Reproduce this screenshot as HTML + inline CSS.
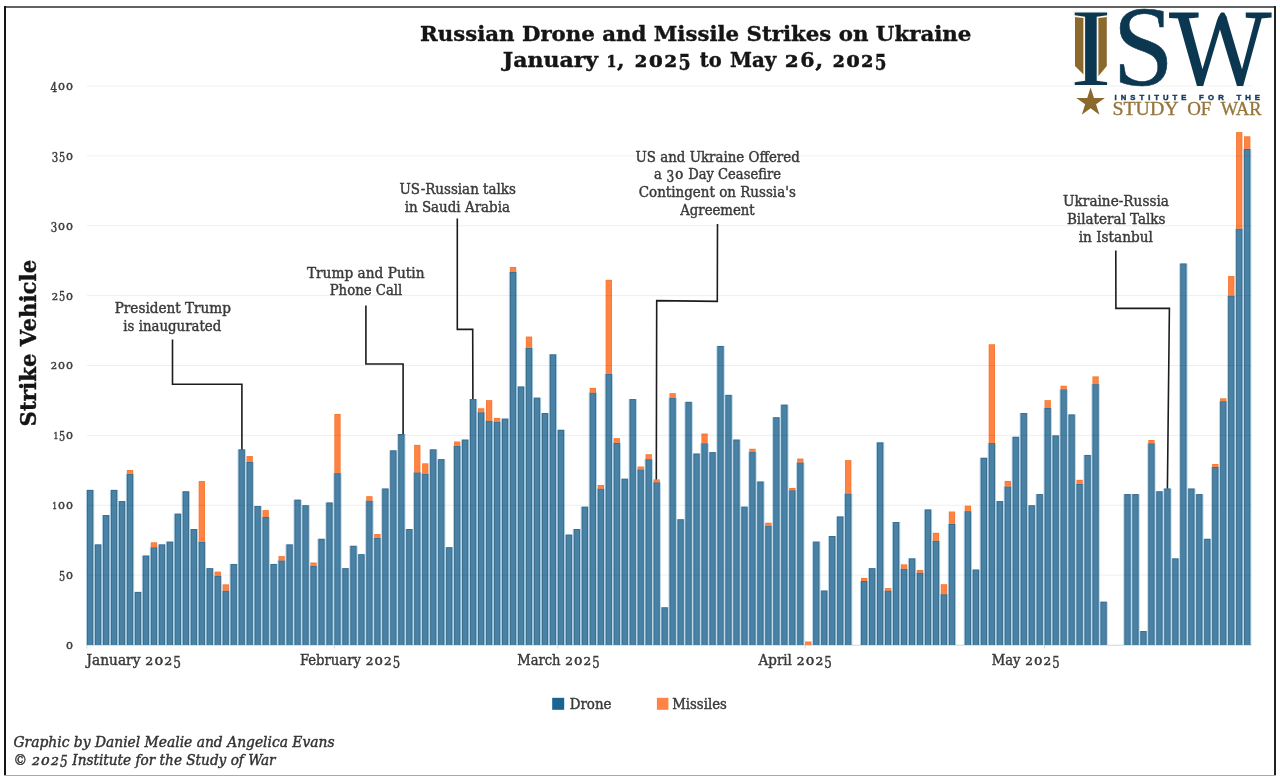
<!DOCTYPE html>
<html lang="en"><head><meta charset="utf-8"><title>Russian Drone and Missile Strikes on Ukraine</title>
<style>html,body{margin:0;padding:0;background:#fff}body{width:1280px;height:776px;overflow:hidden}</style></head>
<body>
<svg width="1280" height="776" viewBox="0 0 1280 776" style="display:block;filter:blur(0.45px)">
<rect width="1280" height="776" fill="#fff"/>
<rect x="4" y="6" width="1272" height="2" fill="#626262"/>
<rect x="4" y="6" width="2" height="770" fill="#151515"/>
<rect x="1274" y="6" width="2" height="770" fill="#222"/>
<rect x="4" y="775" width="1272" height="1" fill="#aaa"/>
<rect x="87" y="644.70" width="1165" height="1" fill="#d4d4d4"/>
<rect x="86.45" y="645" width="1" height="3.5" fill="#d8d8d8"/>
<rect x="333.83" y="645" width="1" height="3.5" fill="#d8d8d8"/>
<rect x="557.27" y="645" width="1" height="3.5" fill="#d8d8d8"/>
<rect x="804.65" y="645" width="1" height="3.5" fill="#d8d8d8"/>
<rect x="1044.05" y="645" width="1" height="3.5" fill="#d8d8d8"/>
<g id="bars">
<rect x="85.95" y="489.88" width="8.30" height="155.12" fill="#b4d3e8"/>
<rect x="86.95" y="489.88" width="6.30" height="155.12" fill="#3a6e8e"/>
<rect x="87.95" y="490.88" width="4.30" height="154.12" fill="#4a82a5"/>
<rect x="93.93" y="544.38" width="8.30" height="100.62" fill="#b4d3e8"/>
<rect x="94.93" y="544.38" width="6.30" height="100.62" fill="#3a6e8e"/>
<rect x="95.93" y="545.38" width="4.30" height="99.62" fill="#4a82a5"/>
<rect x="101.91" y="515.03" width="8.30" height="129.97" fill="#b4d3e8"/>
<rect x="102.91" y="515.03" width="6.30" height="129.97" fill="#3a6e8e"/>
<rect x="103.91" y="516.03" width="4.30" height="128.97" fill="#4a82a5"/>
<rect x="109.89" y="489.88" width="8.30" height="155.12" fill="#b4d3e8"/>
<rect x="110.89" y="489.88" width="6.30" height="155.12" fill="#3a6e8e"/>
<rect x="111.89" y="490.88" width="4.30" height="154.12" fill="#4a82a5"/>
<rect x="117.87" y="501.06" width="8.30" height="143.94" fill="#b4d3e8"/>
<rect x="118.87" y="501.06" width="6.30" height="143.94" fill="#3a6e8e"/>
<rect x="119.87" y="502.06" width="4.30" height="142.94" fill="#4a82a5"/>
<rect x="125.85" y="473.67" width="8.30" height="171.33" fill="#b4d3e8"/>
<rect x="126.85" y="473.67" width="6.30" height="171.33" fill="#3a6e8e"/>
<rect x="127.85" y="474.67" width="4.30" height="170.33" fill="#4a82a5"/>
<rect x="126.85" y="470.03" width="6.30" height="3.63" fill="#f4772f"/>
<rect x="127.65" y="470.83" width="4.70" height="2.83" fill="#ff8344"/>
<rect x="133.83" y="591.89" width="8.30" height="53.11" fill="#b4d3e8"/>
<rect x="134.83" y="591.89" width="6.30" height="53.11" fill="#3a6e8e"/>
<rect x="135.83" y="592.89" width="4.30" height="52.11" fill="#4a82a5"/>
<rect x="141.81" y="555.56" width="8.30" height="89.44" fill="#b4d3e8"/>
<rect x="142.81" y="555.56" width="6.30" height="89.44" fill="#3a6e8e"/>
<rect x="143.81" y="556.56" width="4.30" height="88.44" fill="#4a82a5"/>
<rect x="149.79" y="547.17" width="8.30" height="97.83" fill="#b4d3e8"/>
<rect x="150.79" y="547.17" width="6.30" height="97.83" fill="#3a6e8e"/>
<rect x="151.79" y="548.17" width="4.30" height="96.83" fill="#4a82a5"/>
<rect x="150.79" y="542.28" width="6.30" height="4.89" fill="#f4772f"/>
<rect x="151.59" y="543.08" width="4.70" height="4.09" fill="#ff8344"/>
<rect x="157.77" y="544.38" width="8.30" height="100.62" fill="#b4d3e8"/>
<rect x="158.77" y="544.38" width="6.30" height="100.62" fill="#3a6e8e"/>
<rect x="159.77" y="545.38" width="4.30" height="99.62" fill="#4a82a5"/>
<rect x="165.75" y="541.59" width="8.30" height="103.41" fill="#b4d3e8"/>
<rect x="166.75" y="541.59" width="6.30" height="103.41" fill="#3a6e8e"/>
<rect x="167.75" y="542.59" width="4.30" height="102.41" fill="#4a82a5"/>
<rect x="173.73" y="513.63" width="8.30" height="131.37" fill="#b4d3e8"/>
<rect x="174.73" y="513.63" width="6.30" height="131.37" fill="#3a6e8e"/>
<rect x="175.73" y="514.63" width="4.30" height="130.37" fill="#4a82a5"/>
<rect x="181.71" y="491.27" width="8.30" height="153.73" fill="#b4d3e8"/>
<rect x="182.71" y="491.27" width="6.30" height="153.73" fill="#3a6e8e"/>
<rect x="183.71" y="492.27" width="4.30" height="152.73" fill="#4a82a5"/>
<rect x="189.69" y="529.01" width="8.30" height="115.99" fill="#b4d3e8"/>
<rect x="190.69" y="529.01" width="6.30" height="115.99" fill="#3a6e8e"/>
<rect x="191.69" y="530.01" width="4.30" height="114.99" fill="#4a82a5"/>
<rect x="197.67" y="541.59" width="8.30" height="103.41" fill="#b4d3e8"/>
<rect x="198.67" y="541.59" width="6.30" height="103.41" fill="#3a6e8e"/>
<rect x="199.67" y="542.59" width="4.30" height="102.41" fill="#4a82a5"/>
<rect x="198.67" y="481.07" width="6.30" height="60.51" fill="#f4772f"/>
<rect x="199.47" y="481.87" width="4.70" height="59.71" fill="#ff8344"/>
<rect x="205.65" y="568.14" width="8.30" height="76.86" fill="#b4d3e8"/>
<rect x="206.65" y="568.14" width="6.30" height="76.86" fill="#3a6e8e"/>
<rect x="207.65" y="569.14" width="4.30" height="75.86" fill="#4a82a5"/>
<rect x="213.63" y="575.82" width="8.30" height="69.18" fill="#b4d3e8"/>
<rect x="214.63" y="575.82" width="6.30" height="69.18" fill="#3a6e8e"/>
<rect x="215.63" y="576.82" width="4.30" height="68.18" fill="#4a82a5"/>
<rect x="214.63" y="571.63" width="6.30" height="4.19" fill="#f4772f"/>
<rect x="215.43" y="572.43" width="4.70" height="3.39" fill="#ff8344"/>
<rect x="221.61" y="590.50" width="8.30" height="54.50" fill="#b4d3e8"/>
<rect x="222.61" y="590.50" width="6.30" height="54.50" fill="#3a6e8e"/>
<rect x="223.61" y="591.50" width="4.30" height="53.50" fill="#4a82a5"/>
<rect x="222.61" y="584.35" width="6.30" height="6.15" fill="#f4772f"/>
<rect x="223.41" y="585.15" width="4.70" height="5.35" fill="#ff8344"/>
<rect x="229.59" y="563.95" width="8.30" height="81.05" fill="#b4d3e8"/>
<rect x="230.59" y="563.95" width="6.30" height="81.05" fill="#3a6e8e"/>
<rect x="231.59" y="564.95" width="4.30" height="80.05" fill="#4a82a5"/>
<rect x="237.57" y="449.35" width="8.30" height="195.65" fill="#b4d3e8"/>
<rect x="238.57" y="449.35" width="6.30" height="195.65" fill="#3a6e8e"/>
<rect x="239.57" y="450.35" width="4.30" height="194.65" fill="#4a82a5"/>
<rect x="245.55" y="461.93" width="8.30" height="183.07" fill="#b4d3e8"/>
<rect x="246.55" y="461.93" width="6.30" height="183.07" fill="#3a6e8e"/>
<rect x="247.55" y="462.93" width="4.30" height="182.07" fill="#4a82a5"/>
<rect x="246.55" y="456.06" width="6.30" height="5.87" fill="#f4772f"/>
<rect x="247.35" y="456.86" width="4.70" height="5.07" fill="#ff8344"/>
<rect x="253.53" y="505.95" width="8.30" height="139.05" fill="#b4d3e8"/>
<rect x="254.53" y="505.95" width="6.30" height="139.05" fill="#3a6e8e"/>
<rect x="255.53" y="506.95" width="4.30" height="138.05" fill="#4a82a5"/>
<rect x="261.51" y="516.85" width="8.30" height="128.15" fill="#b4d3e8"/>
<rect x="262.51" y="516.85" width="6.30" height="128.15" fill="#3a6e8e"/>
<rect x="263.51" y="517.85" width="4.30" height="127.15" fill="#4a82a5"/>
<rect x="262.51" y="510.14" width="6.30" height="6.71" fill="#f4772f"/>
<rect x="263.31" y="510.94" width="4.70" height="5.91" fill="#ff8344"/>
<rect x="269.49" y="563.95" width="8.30" height="81.05" fill="#b4d3e8"/>
<rect x="270.49" y="563.95" width="6.30" height="81.05" fill="#3a6e8e"/>
<rect x="271.49" y="564.95" width="4.30" height="80.05" fill="#4a82a5"/>
<rect x="277.47" y="560.31" width="8.30" height="84.69" fill="#b4d3e8"/>
<rect x="278.47" y="560.31" width="6.30" height="84.69" fill="#3a6e8e"/>
<rect x="279.47" y="561.31" width="4.30" height="83.69" fill="#4a82a5"/>
<rect x="278.47" y="556.12" width="6.30" height="4.19" fill="#f4772f"/>
<rect x="279.27" y="556.92" width="4.70" height="3.39" fill="#ff8344"/>
<rect x="285.45" y="544.38" width="8.30" height="100.62" fill="#b4d3e8"/>
<rect x="286.45" y="544.38" width="6.30" height="100.62" fill="#3a6e8e"/>
<rect x="287.45" y="545.38" width="4.30" height="99.62" fill="#4a82a5"/>
<rect x="293.43" y="499.66" width="8.30" height="145.34" fill="#b4d3e8"/>
<rect x="294.43" y="499.66" width="6.30" height="145.34" fill="#3a6e8e"/>
<rect x="295.43" y="500.66" width="4.30" height="144.34" fill="#4a82a5"/>
<rect x="301.41" y="505.25" width="8.30" height="139.75" fill="#b4d3e8"/>
<rect x="302.41" y="505.25" width="6.30" height="139.75" fill="#3a6e8e"/>
<rect x="303.41" y="506.25" width="4.30" height="138.75" fill="#4a82a5"/>
<rect x="309.39" y="565.76" width="8.30" height="79.24" fill="#b4d3e8"/>
<rect x="310.39" y="565.76" width="6.30" height="79.24" fill="#3a6e8e"/>
<rect x="311.39" y="566.76" width="4.30" height="78.24" fill="#4a82a5"/>
<rect x="310.39" y="562.55" width="6.30" height="3.21" fill="#f4772f"/>
<rect x="311.19" y="563.35" width="4.70" height="2.41" fill="#ff8344"/>
<rect x="317.37" y="538.79" width="8.30" height="106.21" fill="#b4d3e8"/>
<rect x="318.37" y="538.79" width="6.30" height="106.21" fill="#3a6e8e"/>
<rect x="319.37" y="539.79" width="4.30" height="105.21" fill="#4a82a5"/>
<rect x="325.35" y="502.46" width="8.30" height="142.54" fill="#b4d3e8"/>
<rect x="326.35" y="502.46" width="6.30" height="142.54" fill="#3a6e8e"/>
<rect x="327.35" y="503.46" width="4.30" height="141.54" fill="#4a82a5"/>
<rect x="333.33" y="473.11" width="8.30" height="171.89" fill="#b4d3e8"/>
<rect x="334.33" y="473.11" width="6.30" height="171.89" fill="#3a6e8e"/>
<rect x="335.33" y="474.11" width="4.30" height="170.89" fill="#4a82a5"/>
<rect x="334.33" y="413.99" width="6.30" height="59.11" fill="#f4772f"/>
<rect x="335.13" y="414.79" width="4.70" height="58.31" fill="#ff8344"/>
<rect x="341.31" y="568.14" width="8.30" height="76.86" fill="#b4d3e8"/>
<rect x="342.31" y="568.14" width="6.30" height="76.86" fill="#3a6e8e"/>
<rect x="343.31" y="569.14" width="4.30" height="75.86" fill="#4a82a5"/>
<rect x="349.29" y="545.78" width="8.30" height="99.22" fill="#b4d3e8"/>
<rect x="350.29" y="545.78" width="6.30" height="99.22" fill="#3a6e8e"/>
<rect x="351.29" y="546.78" width="4.30" height="98.22" fill="#4a82a5"/>
<rect x="357.27" y="554.16" width="8.30" height="90.84" fill="#b4d3e8"/>
<rect x="358.27" y="554.16" width="6.30" height="90.84" fill="#3a6e8e"/>
<rect x="359.27" y="555.16" width="4.30" height="89.84" fill="#4a82a5"/>
<rect x="365.25" y="500.50" width="8.30" height="144.50" fill="#b4d3e8"/>
<rect x="366.25" y="500.50" width="6.30" height="144.50" fill="#3a6e8e"/>
<rect x="367.25" y="501.50" width="4.30" height="143.50" fill="#4a82a5"/>
<rect x="366.25" y="496.17" width="6.30" height="4.33" fill="#f4772f"/>
<rect x="367.05" y="496.97" width="4.70" height="3.53" fill="#ff8344"/>
<rect x="373.23" y="537.95" width="8.30" height="107.05" fill="#b4d3e8"/>
<rect x="374.23" y="537.95" width="6.30" height="107.05" fill="#3a6e8e"/>
<rect x="375.23" y="538.95" width="4.30" height="106.05" fill="#4a82a5"/>
<rect x="374.23" y="534.04" width="6.30" height="3.91" fill="#f4772f"/>
<rect x="375.03" y="534.84" width="4.70" height="3.11" fill="#ff8344"/>
<rect x="381.21" y="488.48" width="8.30" height="156.52" fill="#b4d3e8"/>
<rect x="382.21" y="488.48" width="6.30" height="156.52" fill="#3a6e8e"/>
<rect x="383.21" y="489.48" width="4.30" height="155.52" fill="#4a82a5"/>
<rect x="389.19" y="450.33" width="8.30" height="194.67" fill="#b4d3e8"/>
<rect x="390.19" y="450.33" width="6.30" height="194.67" fill="#3a6e8e"/>
<rect x="391.19" y="451.33" width="4.30" height="193.67" fill="#4a82a5"/>
<rect x="397.17" y="433.98" width="8.30" height="211.02" fill="#b4d3e8"/>
<rect x="398.17" y="433.98" width="6.30" height="211.02" fill="#3a6e8e"/>
<rect x="399.17" y="434.98" width="4.30" height="210.02" fill="#4a82a5"/>
<rect x="405.15" y="529.01" width="8.30" height="115.99" fill="#b4d3e8"/>
<rect x="406.15" y="529.01" width="6.30" height="115.99" fill="#3a6e8e"/>
<rect x="407.15" y="530.01" width="4.30" height="114.99" fill="#4a82a5"/>
<rect x="413.13" y="472.27" width="8.30" height="172.73" fill="#b4d3e8"/>
<rect x="414.13" y="472.27" width="6.30" height="172.73" fill="#3a6e8e"/>
<rect x="415.13" y="473.27" width="4.30" height="171.73" fill="#4a82a5"/>
<rect x="414.13" y="444.88" width="6.30" height="27.39" fill="#f4772f"/>
<rect x="414.93" y="445.68" width="4.70" height="26.59" fill="#ff8344"/>
<rect x="421.11" y="473.53" width="8.30" height="171.47" fill="#b4d3e8"/>
<rect x="422.11" y="473.53" width="6.30" height="171.47" fill="#3a6e8e"/>
<rect x="423.11" y="474.53" width="4.30" height="170.47" fill="#4a82a5"/>
<rect x="422.11" y="463.33" width="6.30" height="10.20" fill="#f4772f"/>
<rect x="422.91" y="464.13" width="4.70" height="9.40" fill="#ff8344"/>
<rect x="429.09" y="449.35" width="8.30" height="195.65" fill="#b4d3e8"/>
<rect x="430.09" y="449.35" width="6.30" height="195.65" fill="#3a6e8e"/>
<rect x="431.09" y="450.35" width="4.30" height="194.65" fill="#4a82a5"/>
<rect x="437.07" y="459.13" width="8.30" height="185.87" fill="#b4d3e8"/>
<rect x="438.07" y="459.13" width="6.30" height="185.87" fill="#3a6e8e"/>
<rect x="439.07" y="460.13" width="4.30" height="184.87" fill="#4a82a5"/>
<rect x="445.05" y="547.17" width="8.30" height="97.83" fill="#b4d3e8"/>
<rect x="446.05" y="547.17" width="6.30" height="97.83" fill="#3a6e8e"/>
<rect x="447.05" y="548.17" width="4.30" height="96.83" fill="#4a82a5"/>
<rect x="453.03" y="445.72" width="8.30" height="199.28" fill="#b4d3e8"/>
<rect x="454.03" y="445.72" width="6.30" height="199.28" fill="#3a6e8e"/>
<rect x="455.03" y="446.72" width="4.30" height="198.28" fill="#4a82a5"/>
<rect x="454.03" y="441.52" width="6.30" height="4.19" fill="#f4772f"/>
<rect x="454.83" y="442.32" width="4.70" height="3.39" fill="#ff8344"/>
<rect x="461.01" y="439.57" width="8.30" height="205.43" fill="#b4d3e8"/>
<rect x="462.01" y="439.57" width="6.30" height="205.43" fill="#3a6e8e"/>
<rect x="463.01" y="440.57" width="4.30" height="204.43" fill="#4a82a5"/>
<rect x="468.99" y="399.04" width="8.30" height="245.96" fill="#b4d3e8"/>
<rect x="469.99" y="399.04" width="6.30" height="245.96" fill="#3a6e8e"/>
<rect x="470.99" y="400.04" width="4.30" height="244.96" fill="#4a82a5"/>
<rect x="476.97" y="412.18" width="8.30" height="232.82" fill="#b4d3e8"/>
<rect x="477.97" y="412.18" width="6.30" height="232.82" fill="#3a6e8e"/>
<rect x="478.97" y="413.18" width="4.30" height="231.82" fill="#4a82a5"/>
<rect x="477.97" y="408.26" width="6.30" height="3.91" fill="#f4772f"/>
<rect x="478.77" y="409.06" width="4.70" height="3.11" fill="#ff8344"/>
<rect x="484.95" y="420.56" width="8.30" height="224.44" fill="#b4d3e8"/>
<rect x="485.95" y="420.56" width="6.30" height="224.44" fill="#3a6e8e"/>
<rect x="486.95" y="421.56" width="4.30" height="223.44" fill="#4a82a5"/>
<rect x="485.95" y="400.16" width="6.30" height="20.40" fill="#f4772f"/>
<rect x="486.75" y="400.96" width="4.70" height="19.60" fill="#ff8344"/>
<rect x="492.93" y="421.68" width="8.30" height="223.32" fill="#b4d3e8"/>
<rect x="493.93" y="421.68" width="6.30" height="223.32" fill="#3a6e8e"/>
<rect x="494.93" y="422.68" width="4.30" height="222.32" fill="#4a82a5"/>
<rect x="493.93" y="417.91" width="6.30" height="3.77" fill="#f4772f"/>
<rect x="494.73" y="418.71" width="4.70" height="2.97" fill="#ff8344"/>
<rect x="500.91" y="418.61" width="8.30" height="226.39" fill="#b4d3e8"/>
<rect x="501.91" y="418.61" width="6.30" height="226.39" fill="#3a6e8e"/>
<rect x="502.91" y="419.61" width="4.30" height="225.39" fill="#4a82a5"/>
<rect x="508.89" y="271.87" width="8.30" height="373.13" fill="#b4d3e8"/>
<rect x="509.89" y="271.87" width="6.30" height="373.13" fill="#3a6e8e"/>
<rect x="510.89" y="272.87" width="4.30" height="372.13" fill="#4a82a5"/>
<rect x="509.89" y="266.98" width="6.30" height="4.89" fill="#f4772f"/>
<rect x="510.69" y="267.78" width="4.70" height="4.09" fill="#ff8344"/>
<rect x="516.87" y="386.46" width="8.30" height="258.54" fill="#b4d3e8"/>
<rect x="517.87" y="386.46" width="6.30" height="258.54" fill="#3a6e8e"/>
<rect x="518.87" y="387.46" width="4.30" height="257.54" fill="#4a82a5"/>
<rect x="524.85" y="347.75" width="8.30" height="297.25" fill="#b4d3e8"/>
<rect x="525.85" y="347.75" width="6.30" height="297.25" fill="#3a6e8e"/>
<rect x="526.85" y="348.75" width="4.30" height="296.25" fill="#4a82a5"/>
<rect x="525.85" y="336.57" width="6.30" height="11.18" fill="#f4772f"/>
<rect x="526.65" y="337.37" width="4.70" height="10.38" fill="#ff8344"/>
<rect x="532.83" y="397.64" width="8.30" height="247.36" fill="#b4d3e8"/>
<rect x="533.83" y="397.64" width="6.30" height="247.36" fill="#3a6e8e"/>
<rect x="534.83" y="398.64" width="4.30" height="246.36" fill="#4a82a5"/>
<rect x="540.81" y="413.01" width="8.30" height="231.99" fill="#b4d3e8"/>
<rect x="541.81" y="413.01" width="6.30" height="231.99" fill="#3a6e8e"/>
<rect x="542.81" y="414.01" width="4.30" height="230.99" fill="#4a82a5"/>
<rect x="548.79" y="354.32" width="8.30" height="290.68" fill="#b4d3e8"/>
<rect x="549.79" y="354.32" width="6.30" height="290.68" fill="#3a6e8e"/>
<rect x="550.79" y="355.32" width="4.30" height="289.68" fill="#4a82a5"/>
<rect x="556.77" y="429.78" width="8.30" height="215.22" fill="#b4d3e8"/>
<rect x="557.77" y="429.78" width="6.30" height="215.22" fill="#3a6e8e"/>
<rect x="558.77" y="430.78" width="4.30" height="214.22" fill="#4a82a5"/>
<rect x="564.75" y="534.60" width="8.30" height="110.40" fill="#b4d3e8"/>
<rect x="565.75" y="534.60" width="6.30" height="110.40" fill="#3a6e8e"/>
<rect x="566.75" y="535.60" width="4.30" height="109.40" fill="#4a82a5"/>
<rect x="572.73" y="529.01" width="8.30" height="115.99" fill="#b4d3e8"/>
<rect x="573.73" y="529.01" width="6.30" height="115.99" fill="#3a6e8e"/>
<rect x="574.73" y="530.01" width="4.30" height="114.99" fill="#4a82a5"/>
<rect x="580.71" y="506.65" width="8.30" height="138.35" fill="#b4d3e8"/>
<rect x="581.71" y="506.65" width="6.30" height="138.35" fill="#3a6e8e"/>
<rect x="582.71" y="507.65" width="4.30" height="137.35" fill="#4a82a5"/>
<rect x="588.69" y="392.47" width="8.30" height="252.53" fill="#b4d3e8"/>
<rect x="589.69" y="392.47" width="6.30" height="252.53" fill="#3a6e8e"/>
<rect x="590.69" y="393.47" width="4.30" height="251.53" fill="#4a82a5"/>
<rect x="589.69" y="387.86" width="6.30" height="4.61" fill="#f4772f"/>
<rect x="590.49" y="388.66" width="4.70" height="3.81" fill="#ff8344"/>
<rect x="596.67" y="488.48" width="8.30" height="156.52" fill="#b4d3e8"/>
<rect x="597.67" y="488.48" width="6.30" height="156.52" fill="#3a6e8e"/>
<rect x="598.67" y="489.48" width="4.30" height="155.52" fill="#4a82a5"/>
<rect x="597.67" y="484.99" width="6.30" height="3.49" fill="#f4772f"/>
<rect x="598.47" y="485.79" width="4.70" height="2.69" fill="#ff8344"/>
<rect x="604.65" y="373.88" width="8.30" height="271.12" fill="#b4d3e8"/>
<rect x="605.65" y="373.88" width="6.30" height="271.12" fill="#3a6e8e"/>
<rect x="606.65" y="374.88" width="4.30" height="270.12" fill="#4a82a5"/>
<rect x="605.65" y="279.83" width="6.30" height="94.05" fill="#f4772f"/>
<rect x="606.45" y="280.63" width="4.70" height="93.25" fill="#ff8344"/>
<rect x="612.63" y="442.64" width="8.30" height="202.36" fill="#b4d3e8"/>
<rect x="613.63" y="442.64" width="6.30" height="202.36" fill="#3a6e8e"/>
<rect x="614.63" y="443.64" width="4.30" height="201.36" fill="#4a82a5"/>
<rect x="613.63" y="438.17" width="6.30" height="4.47" fill="#f4772f"/>
<rect x="614.43" y="438.97" width="4.70" height="3.67" fill="#ff8344"/>
<rect x="620.61" y="478.70" width="8.30" height="166.30" fill="#b4d3e8"/>
<rect x="621.61" y="478.70" width="6.30" height="166.30" fill="#3a6e8e"/>
<rect x="622.61" y="479.70" width="4.30" height="165.30" fill="#4a82a5"/>
<rect x="628.59" y="399.04" width="8.30" height="245.96" fill="#b4d3e8"/>
<rect x="629.59" y="399.04" width="6.30" height="245.96" fill="#3a6e8e"/>
<rect x="630.59" y="400.04" width="4.30" height="244.96" fill="#4a82a5"/>
<rect x="636.57" y="469.33" width="8.30" height="175.67" fill="#b4d3e8"/>
<rect x="637.57" y="469.33" width="6.30" height="175.67" fill="#3a6e8e"/>
<rect x="638.57" y="470.33" width="4.30" height="174.67" fill="#4a82a5"/>
<rect x="637.57" y="466.54" width="6.30" height="2.79" fill="#f4772f"/>
<rect x="638.37" y="467.34" width="4.70" height="1.99" fill="#ff8344"/>
<rect x="644.55" y="459.13" width="8.30" height="185.87" fill="#b4d3e8"/>
<rect x="645.55" y="459.13" width="6.30" height="185.87" fill="#3a6e8e"/>
<rect x="646.55" y="460.13" width="4.30" height="184.87" fill="#4a82a5"/>
<rect x="645.55" y="454.24" width="6.30" height="4.89" fill="#f4772f"/>
<rect x="646.35" y="455.04" width="4.70" height="4.09" fill="#ff8344"/>
<rect x="652.53" y="482.19" width="8.30" height="162.81" fill="#b4d3e8"/>
<rect x="653.53" y="482.19" width="6.30" height="162.81" fill="#3a6e8e"/>
<rect x="654.53" y="483.19" width="4.30" height="161.81" fill="#4a82a5"/>
<rect x="653.53" y="479.40" width="6.30" height="2.79" fill="#f4772f"/>
<rect x="654.33" y="480.20" width="4.70" height="1.99" fill="#ff8344"/>
<rect x="660.51" y="607.27" width="8.30" height="37.73" fill="#b4d3e8"/>
<rect x="661.51" y="607.27" width="6.30" height="37.73" fill="#3a6e8e"/>
<rect x="662.51" y="608.27" width="4.30" height="36.73" fill="#4a82a5"/>
<rect x="668.49" y="397.64" width="8.30" height="247.36" fill="#b4d3e8"/>
<rect x="669.49" y="397.64" width="6.30" height="247.36" fill="#3a6e8e"/>
<rect x="670.49" y="398.64" width="4.30" height="246.36" fill="#4a82a5"/>
<rect x="669.49" y="393.17" width="6.30" height="4.47" fill="#f4772f"/>
<rect x="670.29" y="393.97" width="4.70" height="3.67" fill="#ff8344"/>
<rect x="676.47" y="519.23" width="8.30" height="125.77" fill="#b4d3e8"/>
<rect x="677.47" y="519.23" width="6.30" height="125.77" fill="#3a6e8e"/>
<rect x="678.47" y="520.23" width="4.30" height="124.77" fill="#4a82a5"/>
<rect x="684.45" y="401.84" width="8.30" height="243.16" fill="#b4d3e8"/>
<rect x="685.45" y="401.84" width="6.30" height="243.16" fill="#3a6e8e"/>
<rect x="686.45" y="402.84" width="4.30" height="242.16" fill="#4a82a5"/>
<rect x="692.43" y="453.54" width="8.30" height="191.46" fill="#b4d3e8"/>
<rect x="693.43" y="453.54" width="6.30" height="191.46" fill="#3a6e8e"/>
<rect x="694.43" y="454.54" width="4.30" height="190.46" fill="#4a82a5"/>
<rect x="700.41" y="443.20" width="8.30" height="201.80" fill="#b4d3e8"/>
<rect x="701.41" y="443.20" width="6.30" height="201.80" fill="#3a6e8e"/>
<rect x="702.41" y="444.20" width="4.30" height="200.80" fill="#4a82a5"/>
<rect x="701.41" y="433.56" width="6.30" height="9.64" fill="#f4772f"/>
<rect x="702.21" y="434.36" width="4.70" height="8.84" fill="#ff8344"/>
<rect x="708.39" y="452.14" width="8.30" height="192.86" fill="#b4d3e8"/>
<rect x="709.39" y="452.14" width="6.30" height="192.86" fill="#3a6e8e"/>
<rect x="710.39" y="453.14" width="4.30" height="191.86" fill="#4a82a5"/>
<rect x="716.37" y="345.94" width="8.30" height="299.06" fill="#b4d3e8"/>
<rect x="717.37" y="345.94" width="6.30" height="299.06" fill="#3a6e8e"/>
<rect x="718.37" y="346.94" width="4.30" height="298.06" fill="#4a82a5"/>
<rect x="724.35" y="394.85" width="8.30" height="250.15" fill="#b4d3e8"/>
<rect x="725.35" y="394.85" width="6.30" height="250.15" fill="#3a6e8e"/>
<rect x="726.35" y="395.85" width="4.30" height="249.15" fill="#4a82a5"/>
<rect x="732.33" y="439.57" width="8.30" height="205.43" fill="#b4d3e8"/>
<rect x="733.33" y="439.57" width="6.30" height="205.43" fill="#3a6e8e"/>
<rect x="734.33" y="440.57" width="4.30" height="204.43" fill="#4a82a5"/>
<rect x="740.31" y="506.65" width="8.30" height="138.35" fill="#b4d3e8"/>
<rect x="741.31" y="506.65" width="6.30" height="138.35" fill="#3a6e8e"/>
<rect x="742.31" y="507.65" width="4.30" height="137.35" fill="#4a82a5"/>
<rect x="748.29" y="451.59" width="8.30" height="193.41" fill="#b4d3e8"/>
<rect x="749.29" y="451.59" width="6.30" height="193.41" fill="#3a6e8e"/>
<rect x="750.29" y="452.59" width="4.30" height="192.41" fill="#4a82a5"/>
<rect x="749.29" y="448.79" width="6.30" height="2.80" fill="#f4772f"/>
<rect x="750.09" y="449.59" width="4.70" height="2.00" fill="#ff8344"/>
<rect x="756.27" y="481.49" width="8.30" height="163.51" fill="#b4d3e8"/>
<rect x="757.27" y="481.49" width="6.30" height="163.51" fill="#3a6e8e"/>
<rect x="758.27" y="482.49" width="4.30" height="162.51" fill="#4a82a5"/>
<rect x="764.25" y="525.51" width="8.30" height="119.49" fill="#b4d3e8"/>
<rect x="765.25" y="525.51" width="6.30" height="119.49" fill="#3a6e8e"/>
<rect x="766.25" y="526.51" width="4.30" height="118.49" fill="#4a82a5"/>
<rect x="765.25" y="522.72" width="6.30" height="2.79" fill="#f4772f"/>
<rect x="766.05" y="523.52" width="4.70" height="1.99" fill="#ff8344"/>
<rect x="772.23" y="417.21" width="8.30" height="227.79" fill="#b4d3e8"/>
<rect x="773.23" y="417.21" width="6.30" height="227.79" fill="#3a6e8e"/>
<rect x="774.23" y="418.21" width="4.30" height="226.79" fill="#4a82a5"/>
<rect x="780.21" y="404.63" width="8.30" height="240.37" fill="#b4d3e8"/>
<rect x="781.21" y="404.63" width="6.30" height="240.37" fill="#3a6e8e"/>
<rect x="782.21" y="405.63" width="4.30" height="239.37" fill="#4a82a5"/>
<rect x="788.19" y="490.16" width="8.30" height="154.84" fill="#b4d3e8"/>
<rect x="789.19" y="490.16" width="6.30" height="154.84" fill="#3a6e8e"/>
<rect x="790.19" y="491.16" width="4.30" height="153.84" fill="#4a82a5"/>
<rect x="789.19" y="487.92" width="6.30" height="2.24" fill="#f4772f"/>
<rect x="789.99" y="488.72" width="4.70" height="1.44" fill="#ff8344"/>
<rect x="796.17" y="462.35" width="8.30" height="182.65" fill="#b4d3e8"/>
<rect x="797.17" y="462.35" width="6.30" height="182.65" fill="#3a6e8e"/>
<rect x="798.17" y="463.35" width="4.30" height="181.65" fill="#4a82a5"/>
<rect x="797.17" y="458.57" width="6.30" height="3.77" fill="#f4772f"/>
<rect x="797.97" y="459.37" width="4.70" height="2.97" fill="#ff8344"/>
<rect x="805.15" y="641.51" width="6.30" height="3.49" fill="#f4772f"/>
<rect x="805.95" y="642.31" width="4.70" height="2.69" fill="#ff8344"/>
<rect x="812.13" y="541.59" width="8.30" height="103.41" fill="#b4d3e8"/>
<rect x="813.13" y="541.59" width="6.30" height="103.41" fill="#3a6e8e"/>
<rect x="814.13" y="542.59" width="4.30" height="102.41" fill="#4a82a5"/>
<rect x="820.11" y="590.50" width="8.30" height="54.50" fill="#b4d3e8"/>
<rect x="821.11" y="590.50" width="6.30" height="54.50" fill="#3a6e8e"/>
<rect x="822.11" y="591.50" width="4.30" height="53.50" fill="#4a82a5"/>
<rect x="828.09" y="536.00" width="8.30" height="109.00" fill="#b4d3e8"/>
<rect x="829.09" y="536.00" width="6.30" height="109.00" fill="#3a6e8e"/>
<rect x="830.09" y="537.00" width="4.30" height="108.00" fill="#4a82a5"/>
<rect x="836.07" y="516.43" width="8.30" height="128.57" fill="#b4d3e8"/>
<rect x="837.07" y="516.43" width="6.30" height="128.57" fill="#3a6e8e"/>
<rect x="838.07" y="517.43" width="4.30" height="127.57" fill="#4a82a5"/>
<rect x="844.05" y="493.37" width="8.30" height="151.63" fill="#b4d3e8"/>
<rect x="845.05" y="493.37" width="6.30" height="151.63" fill="#3a6e8e"/>
<rect x="846.05" y="494.37" width="4.30" height="150.63" fill="#4a82a5"/>
<rect x="845.05" y="460.11" width="6.30" height="33.26" fill="#f4772f"/>
<rect x="845.85" y="460.91" width="4.70" height="32.46" fill="#ff8344"/>
<rect x="860.01" y="580.99" width="8.30" height="64.01" fill="#b4d3e8"/>
<rect x="861.01" y="580.99" width="6.30" height="64.01" fill="#3a6e8e"/>
<rect x="862.01" y="581.99" width="4.30" height="63.01" fill="#4a82a5"/>
<rect x="861.01" y="577.92" width="6.30" height="3.07" fill="#f4772f"/>
<rect x="861.81" y="578.72" width="4.70" height="2.27" fill="#ff8344"/>
<rect x="867.99" y="568.14" width="8.30" height="76.86" fill="#b4d3e8"/>
<rect x="868.99" y="568.14" width="6.30" height="76.86" fill="#3a6e8e"/>
<rect x="869.99" y="569.14" width="4.30" height="75.86" fill="#4a82a5"/>
<rect x="875.97" y="442.36" width="8.30" height="202.64" fill="#b4d3e8"/>
<rect x="876.97" y="442.36" width="6.30" height="202.64" fill="#3a6e8e"/>
<rect x="877.97" y="443.36" width="4.30" height="201.64" fill="#4a82a5"/>
<rect x="883.95" y="590.50" width="8.30" height="54.50" fill="#b4d3e8"/>
<rect x="884.95" y="590.50" width="6.30" height="54.50" fill="#3a6e8e"/>
<rect x="885.95" y="591.50" width="4.30" height="53.50" fill="#4a82a5"/>
<rect x="884.95" y="588.12" width="6.30" height="2.38" fill="#f4772f"/>
<rect x="885.75" y="588.92" width="4.70" height="1.58" fill="#ff8344"/>
<rect x="891.93" y="522.02" width="8.30" height="122.98" fill="#b4d3e8"/>
<rect x="892.93" y="522.02" width="6.30" height="122.98" fill="#3a6e8e"/>
<rect x="893.93" y="523.02" width="4.30" height="121.98" fill="#4a82a5"/>
<rect x="899.91" y="568.56" width="8.30" height="76.44" fill="#b4d3e8"/>
<rect x="900.91" y="568.56" width="6.30" height="76.44" fill="#3a6e8e"/>
<rect x="901.91" y="569.56" width="4.30" height="75.44" fill="#4a82a5"/>
<rect x="900.91" y="564.36" width="6.30" height="4.19" fill="#f4772f"/>
<rect x="901.71" y="565.16" width="4.70" height="3.39" fill="#ff8344"/>
<rect x="907.89" y="558.36" width="8.30" height="86.64" fill="#b4d3e8"/>
<rect x="908.89" y="558.36" width="6.30" height="86.64" fill="#3a6e8e"/>
<rect x="909.89" y="559.36" width="4.30" height="85.64" fill="#4a82a5"/>
<rect x="915.87" y="572.47" width="8.30" height="72.53" fill="#b4d3e8"/>
<rect x="916.87" y="572.47" width="6.30" height="72.53" fill="#3a6e8e"/>
<rect x="917.87" y="573.47" width="4.30" height="71.53" fill="#4a82a5"/>
<rect x="916.87" y="569.95" width="6.30" height="2.52" fill="#f4772f"/>
<rect x="917.67" y="570.75" width="4.70" height="1.72" fill="#ff8344"/>
<rect x="923.85" y="509.44" width="8.30" height="135.56" fill="#b4d3e8"/>
<rect x="924.85" y="509.44" width="6.30" height="135.56" fill="#3a6e8e"/>
<rect x="925.85" y="510.44" width="4.30" height="134.56" fill="#4a82a5"/>
<rect x="931.83" y="540.61" width="8.30" height="104.39" fill="#b4d3e8"/>
<rect x="932.83" y="540.61" width="6.30" height="104.39" fill="#3a6e8e"/>
<rect x="933.83" y="541.61" width="4.30" height="103.39" fill="#4a82a5"/>
<rect x="932.83" y="532.78" width="6.30" height="7.83" fill="#f4772f"/>
<rect x="933.63" y="533.58" width="4.70" height="7.03" fill="#ff8344"/>
<rect x="939.81" y="594.13" width="8.30" height="50.87" fill="#b4d3e8"/>
<rect x="940.81" y="594.13" width="6.30" height="50.87" fill="#3a6e8e"/>
<rect x="941.81" y="595.13" width="4.30" height="49.87" fill="#4a82a5"/>
<rect x="940.81" y="584.21" width="6.30" height="9.92" fill="#f4772f"/>
<rect x="941.61" y="585.01" width="4.70" height="9.12" fill="#ff8344"/>
<rect x="947.79" y="523.84" width="8.30" height="121.16" fill="#b4d3e8"/>
<rect x="948.79" y="523.84" width="6.30" height="121.16" fill="#3a6e8e"/>
<rect x="949.79" y="524.84" width="4.30" height="120.16" fill="#4a82a5"/>
<rect x="948.79" y="511.54" width="6.30" height="12.30" fill="#f4772f"/>
<rect x="949.59" y="512.34" width="4.70" height="11.50" fill="#ff8344"/>
<rect x="963.75" y="511.12" width="8.30" height="133.88" fill="#b4d3e8"/>
<rect x="964.75" y="511.12" width="6.30" height="133.88" fill="#3a6e8e"/>
<rect x="965.75" y="512.12" width="4.30" height="132.88" fill="#4a82a5"/>
<rect x="964.75" y="505.67" width="6.30" height="5.45" fill="#f4772f"/>
<rect x="965.55" y="506.47" width="4.70" height="4.65" fill="#ff8344"/>
<rect x="971.73" y="569.53" width="8.30" height="75.47" fill="#b4d3e8"/>
<rect x="972.73" y="569.53" width="6.30" height="75.47" fill="#3a6e8e"/>
<rect x="973.73" y="570.53" width="4.30" height="74.47" fill="#4a82a5"/>
<rect x="979.71" y="457.74" width="8.30" height="187.26" fill="#b4d3e8"/>
<rect x="980.71" y="457.74" width="6.30" height="187.26" fill="#3a6e8e"/>
<rect x="981.71" y="458.74" width="4.30" height="186.26" fill="#4a82a5"/>
<rect x="987.69" y="443.06" width="8.30" height="201.94" fill="#b4d3e8"/>
<rect x="988.69" y="443.06" width="6.30" height="201.94" fill="#3a6e8e"/>
<rect x="989.69" y="444.06" width="4.30" height="200.94" fill="#4a82a5"/>
<rect x="988.69" y="344.26" width="6.30" height="98.80" fill="#f4772f"/>
<rect x="989.49" y="345.06" width="4.70" height="98.00" fill="#ff8344"/>
<rect x="995.67" y="501.06" width="8.30" height="143.94" fill="#b4d3e8"/>
<rect x="996.67" y="501.06" width="6.30" height="143.94" fill="#3a6e8e"/>
<rect x="997.67" y="502.06" width="4.30" height="142.94" fill="#4a82a5"/>
<rect x="1003.65" y="486.38" width="8.30" height="158.62" fill="#b4d3e8"/>
<rect x="1004.65" y="486.38" width="6.30" height="158.62" fill="#3a6e8e"/>
<rect x="1005.65" y="487.38" width="4.30" height="157.62" fill="#4a82a5"/>
<rect x="1004.65" y="480.93" width="6.30" height="5.45" fill="#f4772f"/>
<rect x="1005.45" y="481.73" width="4.70" height="4.65" fill="#ff8344"/>
<rect x="1011.63" y="436.77" width="8.30" height="208.23" fill="#b4d3e8"/>
<rect x="1012.63" y="436.77" width="6.30" height="208.23" fill="#3a6e8e"/>
<rect x="1013.63" y="437.77" width="4.30" height="207.23" fill="#4a82a5"/>
<rect x="1019.61" y="413.01" width="8.30" height="231.99" fill="#b4d3e8"/>
<rect x="1020.61" y="413.01" width="6.30" height="231.99" fill="#3a6e8e"/>
<rect x="1021.61" y="414.01" width="4.30" height="230.99" fill="#4a82a5"/>
<rect x="1027.59" y="505.25" width="8.30" height="139.75" fill="#b4d3e8"/>
<rect x="1028.59" y="505.25" width="6.30" height="139.75" fill="#3a6e8e"/>
<rect x="1029.59" y="506.25" width="4.30" height="138.75" fill="#4a82a5"/>
<rect x="1035.57" y="494.07" width="8.30" height="150.93" fill="#b4d3e8"/>
<rect x="1036.57" y="494.07" width="6.30" height="150.93" fill="#3a6e8e"/>
<rect x="1037.57" y="495.07" width="4.30" height="149.93" fill="#4a82a5"/>
<rect x="1043.55" y="407.98" width="8.30" height="237.02" fill="#b4d3e8"/>
<rect x="1044.55" y="407.98" width="6.30" height="237.02" fill="#3a6e8e"/>
<rect x="1045.55" y="408.98" width="4.30" height="236.02" fill="#4a82a5"/>
<rect x="1044.55" y="400.16" width="6.30" height="7.83" fill="#f4772f"/>
<rect x="1045.35" y="400.96" width="4.70" height="7.03" fill="#ff8344"/>
<rect x="1051.53" y="435.38" width="8.30" height="209.62" fill="#b4d3e8"/>
<rect x="1052.53" y="435.38" width="6.30" height="209.62" fill="#3a6e8e"/>
<rect x="1053.53" y="436.38" width="4.30" height="208.62" fill="#4a82a5"/>
<rect x="1059.51" y="389.26" width="8.30" height="255.74" fill="#b4d3e8"/>
<rect x="1060.51" y="389.26" width="6.30" height="255.74" fill="#3a6e8e"/>
<rect x="1061.51" y="390.26" width="4.30" height="254.74" fill="#4a82a5"/>
<rect x="1060.51" y="385.76" width="6.30" height="3.49" fill="#f4772f"/>
<rect x="1061.31" y="386.56" width="4.70" height="2.69" fill="#ff8344"/>
<rect x="1067.49" y="414.41" width="8.30" height="230.59" fill="#b4d3e8"/>
<rect x="1068.49" y="414.41" width="6.30" height="230.59" fill="#3a6e8e"/>
<rect x="1069.49" y="415.41" width="4.30" height="229.59" fill="#4a82a5"/>
<rect x="1075.47" y="484.01" width="8.30" height="160.99" fill="#b4d3e8"/>
<rect x="1076.47" y="484.01" width="6.30" height="160.99" fill="#3a6e8e"/>
<rect x="1077.47" y="485.01" width="4.30" height="159.99" fill="#4a82a5"/>
<rect x="1076.47" y="479.82" width="6.30" height="4.19" fill="#f4772f"/>
<rect x="1077.27" y="480.62" width="4.70" height="3.39" fill="#ff8344"/>
<rect x="1083.45" y="454.94" width="8.30" height="190.06" fill="#b4d3e8"/>
<rect x="1084.45" y="454.94" width="6.30" height="190.06" fill="#3a6e8e"/>
<rect x="1085.45" y="455.94" width="4.30" height="189.06" fill="#4a82a5"/>
<rect x="1091.43" y="384.09" width="8.30" height="260.91" fill="#b4d3e8"/>
<rect x="1092.43" y="384.09" width="6.30" height="260.91" fill="#3a6e8e"/>
<rect x="1093.43" y="385.09" width="4.30" height="259.91" fill="#4a82a5"/>
<rect x="1092.43" y="376.40" width="6.30" height="7.69" fill="#f4772f"/>
<rect x="1093.23" y="377.20" width="4.70" height="6.89" fill="#ff8344"/>
<rect x="1099.41" y="601.68" width="8.30" height="43.32" fill="#b4d3e8"/>
<rect x="1100.41" y="601.68" width="6.30" height="43.32" fill="#3a6e8e"/>
<rect x="1101.41" y="602.68" width="4.30" height="42.32" fill="#4a82a5"/>
<rect x="1123.35" y="494.07" width="8.30" height="150.93" fill="#b4d3e8"/>
<rect x="1124.35" y="494.07" width="6.30" height="150.93" fill="#3a6e8e"/>
<rect x="1125.35" y="495.07" width="4.30" height="149.93" fill="#4a82a5"/>
<rect x="1131.33" y="494.07" width="8.30" height="150.93" fill="#b4d3e8"/>
<rect x="1132.33" y="494.07" width="6.30" height="150.93" fill="#3a6e8e"/>
<rect x="1133.33" y="495.07" width="4.30" height="149.93" fill="#4a82a5"/>
<rect x="1139.31" y="631.02" width="8.30" height="13.98" fill="#b4d3e8"/>
<rect x="1140.31" y="631.02" width="6.30" height="13.98" fill="#3a6e8e"/>
<rect x="1141.31" y="632.02" width="4.30" height="12.98" fill="#4a82a5"/>
<rect x="1147.29" y="443.20" width="8.30" height="201.80" fill="#b4d3e8"/>
<rect x="1148.29" y="443.20" width="6.30" height="201.80" fill="#3a6e8e"/>
<rect x="1149.29" y="444.20" width="4.30" height="200.80" fill="#4a82a5"/>
<rect x="1148.29" y="439.99" width="6.30" height="3.21" fill="#f4772f"/>
<rect x="1149.09" y="440.79" width="4.70" height="2.41" fill="#ff8344"/>
<rect x="1155.27" y="491.27" width="8.30" height="153.73" fill="#b4d3e8"/>
<rect x="1156.27" y="491.27" width="6.30" height="153.73" fill="#3a6e8e"/>
<rect x="1157.27" y="492.27" width="4.30" height="152.73" fill="#4a82a5"/>
<rect x="1163.25" y="488.48" width="8.30" height="156.52" fill="#b4d3e8"/>
<rect x="1164.25" y="488.48" width="6.30" height="156.52" fill="#3a6e8e"/>
<rect x="1165.25" y="489.48" width="4.30" height="155.52" fill="#4a82a5"/>
<rect x="1171.23" y="558.36" width="8.30" height="86.64" fill="#b4d3e8"/>
<rect x="1172.23" y="558.36" width="6.30" height="86.64" fill="#3a6e8e"/>
<rect x="1173.23" y="559.36" width="4.30" height="85.64" fill="#4a82a5"/>
<rect x="1179.21" y="263.48" width="8.30" height="381.52" fill="#b4d3e8"/>
<rect x="1180.21" y="263.48" width="6.30" height="381.52" fill="#3a6e8e"/>
<rect x="1181.21" y="264.48" width="4.30" height="380.52" fill="#4a82a5"/>
<rect x="1187.19" y="488.48" width="8.30" height="156.52" fill="#b4d3e8"/>
<rect x="1188.19" y="488.48" width="6.30" height="156.52" fill="#3a6e8e"/>
<rect x="1189.19" y="489.48" width="4.30" height="155.52" fill="#4a82a5"/>
<rect x="1195.17" y="494.07" width="8.30" height="150.93" fill="#b4d3e8"/>
<rect x="1196.17" y="494.07" width="6.30" height="150.93" fill="#3a6e8e"/>
<rect x="1197.17" y="495.07" width="4.30" height="149.93" fill="#4a82a5"/>
<rect x="1203.15" y="538.79" width="8.30" height="106.21" fill="#b4d3e8"/>
<rect x="1204.15" y="538.79" width="6.30" height="106.21" fill="#3a6e8e"/>
<rect x="1205.15" y="539.79" width="4.30" height="105.21" fill="#4a82a5"/>
<rect x="1211.13" y="466.82" width="8.30" height="178.18" fill="#b4d3e8"/>
<rect x="1212.13" y="466.82" width="6.30" height="178.18" fill="#3a6e8e"/>
<rect x="1213.13" y="467.82" width="4.30" height="177.18" fill="#4a82a5"/>
<rect x="1212.13" y="464.02" width="6.30" height="2.80" fill="#f4772f"/>
<rect x="1212.93" y="464.82" width="4.70" height="2.00" fill="#ff8344"/>
<rect x="1219.11" y="401.14" width="8.30" height="243.86" fill="#b4d3e8"/>
<rect x="1220.11" y="401.14" width="6.30" height="243.86" fill="#3a6e8e"/>
<rect x="1221.11" y="402.14" width="4.30" height="242.86" fill="#4a82a5"/>
<rect x="1220.11" y="398.34" width="6.30" height="2.80" fill="#f4772f"/>
<rect x="1220.91" y="399.14" width="4.70" height="2.00" fill="#ff8344"/>
<rect x="1227.09" y="295.62" width="8.30" height="349.38" fill="#b4d3e8"/>
<rect x="1228.09" y="295.62" width="6.30" height="349.38" fill="#3a6e8e"/>
<rect x="1229.09" y="296.62" width="4.30" height="348.38" fill="#4a82a5"/>
<rect x="1228.09" y="276.06" width="6.30" height="19.56" fill="#f4772f"/>
<rect x="1228.89" y="276.86" width="4.70" height="18.76" fill="#ff8344"/>
<rect x="1235.07" y="228.55" width="8.30" height="416.45" fill="#b4d3e8"/>
<rect x="1236.07" y="228.55" width="6.30" height="416.45" fill="#3a6e8e"/>
<rect x="1237.07" y="229.55" width="4.30" height="415.45" fill="#4a82a5"/>
<rect x="1236.07" y="132.12" width="6.30" height="96.43" fill="#f4772f"/>
<rect x="1236.87" y="132.92" width="4.70" height="95.63" fill="#ff8344"/>
<rect x="1243.05" y="148.89" width="8.30" height="496.11" fill="#b4d3e8"/>
<rect x="1244.05" y="148.89" width="6.30" height="496.11" fill="#3a6e8e"/>
<rect x="1245.05" y="149.89" width="4.30" height="495.11" fill="#4a82a5"/>
<rect x="1244.05" y="136.31" width="6.30" height="12.58" fill="#f4772f"/>
<rect x="1244.85" y="137.11" width="4.70" height="11.78" fill="#ff8344"/>
</g>
<rect x="87" y="574.62" width="1165" height="1" fill="#000" fill-opacity="0.065"/>
<rect x="87" y="504.75" width="1165" height="1" fill="#000" fill-opacity="0.065"/>
<rect x="87" y="434.88" width="1165" height="1" fill="#000" fill-opacity="0.065"/>
<rect x="87" y="365.00" width="1165" height="1" fill="#000" fill-opacity="0.065"/>
<rect x="87" y="295.12" width="1165" height="1" fill="#000" fill-opacity="0.065"/>
<rect x="87" y="225.25" width="1165" height="1" fill="#000" fill-opacity="0.065"/>
<rect x="87" y="155.38" width="1165" height="1" fill="#000" fill-opacity="0.065"/>
<rect x="87" y="85.50" width="1165" height="1" fill="#000" fill-opacity="0.065"/>
<path d="M172.5 339.5 L172.5 384.2 L241.9 384.2 L241.9 449.5" fill="none" stroke="#1c1c1c" stroke-width="1.6" stroke-linejoin="miter"/>
<path d="M365.9 305.5 L365.9 364.0 L403.1 364.0 L403.1 434.0" fill="none" stroke="#1c1c1c" stroke-width="1.6" stroke-linejoin="miter"/>
<path d="M457.3 218.6 L457.3 329.4 L472.7 329.4 L472.9 399.0" fill="none" stroke="#1c1c1c" stroke-width="1.6" stroke-linejoin="miter"/>
<path d="M717.5 224.0 L717.3 301.4 L656.7 300.6 L656.3 479.5" fill="none" stroke="#1c1c1c" stroke-width="1.6" stroke-linejoin="miter"/>
<path d="M1115.8 250.5 L1115.9 308.4 L1169.4 308.4 L1167.4 488.5" fill="none" stroke="#1c1c1c" stroke-width="1.6" stroke-linejoin="miter"/>
<text y="313.30" font-family="'DejaVu Serif Condensed','DejaVu Serif','Liberation Serif',serif" font-size="15" font-weight="normal" font-style="normal" fill="#3a3a3a" stroke="#3a3a3a" stroke-width="0.42" xml:space="preserve" ><tspan x="114.70" y="313.30" textLength="116.30" lengthAdjust="spacingAndGlyphs">President Trump</tspan></text>
<text y="330.80" font-family="'DejaVu Serif Condensed','DejaVu Serif','Liberation Serif',serif" font-size="15" font-weight="normal" font-style="normal" fill="#3a3a3a" stroke="#3a3a3a" stroke-width="0.42" xml:space="preserve" ><tspan x="123.30" y="330.80" textLength="98.00" lengthAdjust="spacingAndGlyphs">is inaugurated</tspan></text>
<text y="278.10" font-family="'DejaVu Serif Condensed','DejaVu Serif','Liberation Serif',serif" font-size="15" font-weight="normal" font-style="normal" fill="#3a3a3a" stroke="#3a3a3a" stroke-width="0.42" xml:space="preserve" ><tspan x="306.90" y="278.10" textLength="117.60" lengthAdjust="spacingAndGlyphs">Trump and Putin</tspan></text>
<text y="295.30" font-family="'DejaVu Serif Condensed','DejaVu Serif','Liberation Serif',serif" font-size="15" font-weight="normal" font-style="normal" fill="#3a3a3a" stroke="#3a3a3a" stroke-width="0.42" xml:space="preserve" ><tspan x="329.70" y="295.30" textLength="72.60" lengthAdjust="spacingAndGlyphs">Phone Call</tspan></text>
<text y="193.60" font-family="'DejaVu Serif Condensed','DejaVu Serif','Liberation Serif',serif" font-size="15" font-weight="normal" font-style="normal" fill="#3a3a3a" stroke="#3a3a3a" stroke-width="0.42" xml:space="preserve" ><tspan x="399.50" y="193.60" textLength="116.40" lengthAdjust="spacingAndGlyphs">US-Russian talks</tspan></text>
<text y="211.60" font-family="'DejaVu Serif Condensed','DejaVu Serif','Liberation Serif',serif" font-size="15" font-weight="normal" font-style="normal" fill="#3a3a3a" stroke="#3a3a3a" stroke-width="0.42" xml:space="preserve" ><tspan x="404.70" y="211.60" textLength="105.30" lengthAdjust="spacingAndGlyphs">in Saudi Arabia</tspan></text>
<text y="161.60" font-family="'DejaVu Serif Condensed','DejaVu Serif','Liberation Serif',serif" font-size="15" font-weight="normal" font-style="normal" fill="#3a3a3a" stroke="#3a3a3a" stroke-width="0.42" xml:space="preserve" ><tspan x="635.60" y="161.60" textLength="164.10" lengthAdjust="spacingAndGlyphs">US and Ukraine Offered</tspan></text>
<text y="179.40" font-family="'DejaVu Serif Condensed','DejaVu Serif','Liberation Serif',serif" font-size="15" font-weight="normal" font-style="normal" fill="#3a3a3a" stroke="#3a3a3a" stroke-width="0.42" xml:space="preserve" ><tspan x="654.00" y="179.40" textLength="11.97" lengthAdjust="spacingAndGlyphs">a </tspan><tspan x="666.39" y="181.76" font-size="15.75" textLength="7.72" lengthAdjust="spacingAndGlyphs">3</tspan><tspan x="675.11" y="179.40" font-size="10.95" textLength="8.39" lengthAdjust="spacingAndGlyphs" stroke="#3a3a3a" stroke-width="0.45">0</tspan><tspan x="684.07" y="179.40" textLength="96.83" lengthAdjust="spacingAndGlyphs"> Day Ceasefire</tspan></text>
<text y="197.00" font-family="'DejaVu Serif Condensed','DejaVu Serif','Liberation Serif',serif" font-size="15" font-weight="normal" font-style="normal" fill="#3a3a3a" stroke="#3a3a3a" stroke-width="0.42" xml:space="preserve" ><tspan x="638.75" y="197.00" textLength="157.05" lengthAdjust="spacingAndGlyphs">Contingent on Russia's</tspan></text>
<text y="214.70" font-family="'DejaVu Serif Condensed','DejaVu Serif','Liberation Serif',serif" font-size="15" font-weight="normal" font-style="normal" fill="#3a3a3a" stroke="#3a3a3a" stroke-width="0.42" xml:space="preserve" ><tspan x="680.20" y="214.70" textLength="74.50" lengthAdjust="spacingAndGlyphs">Agreement</tspan></text>
<text y="206.25" font-family="'DejaVu Serif Condensed','DejaVu Serif','Liberation Serif',serif" font-size="15" font-weight="normal" font-style="normal" fill="#3a3a3a" stroke="#3a3a3a" stroke-width="0.42" xml:space="preserve" ><tspan x="1063.10" y="206.25" textLength="105.80" lengthAdjust="spacingAndGlyphs">Ukraine-Russia</tspan></text>
<text y="223.90" font-family="'DejaVu Serif Condensed','DejaVu Serif','Liberation Serif',serif" font-size="15" font-weight="normal" font-style="normal" fill="#3a3a3a" stroke="#3a3a3a" stroke-width="0.42" xml:space="preserve" ><tspan x="1066.90" y="223.90" textLength="98.60" lengthAdjust="spacingAndGlyphs">Bilateral Talks</tspan></text>
<text y="241.90" font-family="'DejaVu Serif Condensed','DejaVu Serif','Liberation Serif',serif" font-size="15" font-weight="normal" font-style="normal" fill="#3a3a3a" stroke="#3a3a3a" stroke-width="0.42" xml:space="preserve" ><tspan x="1078.75" y="241.90" textLength="74.05" lengthAdjust="spacingAndGlyphs">in Istanbul</tspan></text>
<text y="665.20" font-family="'DejaVu Serif Condensed','DejaVu Serif','Liberation Serif',serif" font-size="15" font-weight="normal" font-style="normal" fill="#3a3a3a" stroke="#3a3a3a" stroke-width="0.42" xml:space="preserve" ><tspan x="86.60" y="665.20" textLength="58.16" lengthAdjust="spacingAndGlyphs">January </tspan><tspan x="145.30" y="665.20" font-size="10.95" textLength="8.00" lengthAdjust="spacingAndGlyphs" stroke="#3a3a3a" stroke-width="0.45">2</tspan><tspan x="154.45" y="665.20" font-size="10.95" textLength="8.78" lengthAdjust="spacingAndGlyphs" stroke="#3a3a3a" stroke-width="0.45">0</tspan><tspan x="164.37" y="665.20" font-size="10.95" textLength="8.00" lengthAdjust="spacingAndGlyphs" stroke="#3a3a3a" stroke-width="0.45">2</tspan><tspan x="173.35" y="667.56" font-size="15.75" textLength="7.73" lengthAdjust="spacingAndGlyphs">5</tspan></text>
<text y="665.20" font-family="'DejaVu Serif Condensed','DejaVu Serif','Liberation Serif',serif" font-size="15" font-weight="normal" font-style="normal" fill="#3a3a3a" stroke="#3a3a3a" stroke-width="0.42" xml:space="preserve" ><tspan x="299.90" y="665.20" textLength="65.30" lengthAdjust="spacingAndGlyphs">February </tspan><tspan x="365.73" y="665.20" font-size="10.95" textLength="7.70" lengthAdjust="spacingAndGlyphs" stroke="#3a3a3a" stroke-width="0.45">2</tspan><tspan x="374.54" y="665.20" font-size="10.95" textLength="8.46" lengthAdjust="spacingAndGlyphs" stroke="#3a3a3a" stroke-width="0.45">0</tspan><tspan x="384.10" y="665.20" font-size="10.95" textLength="7.70" lengthAdjust="spacingAndGlyphs" stroke="#3a3a3a" stroke-width="0.45">2</tspan><tspan x="392.74" y="667.56" font-size="15.75" textLength="7.44" lengthAdjust="spacingAndGlyphs">5</tspan></text>
<text y="665.20" font-family="'DejaVu Serif Condensed','DejaVu Serif','Liberation Serif',serif" font-size="15" font-weight="normal" font-style="normal" fill="#3a3a3a" stroke="#3a3a3a" stroke-width="0.42" xml:space="preserve" ><tspan x="517.20" y="665.20" textLength="47.58" lengthAdjust="spacingAndGlyphs">March </tspan><tspan x="565.30" y="665.20" font-size="10.95" textLength="7.67" lengthAdjust="spacingAndGlyphs" stroke="#3a3a3a" stroke-width="0.45">2</tspan><tspan x="574.07" y="665.20" font-size="10.95" textLength="8.42" lengthAdjust="spacingAndGlyphs" stroke="#3a3a3a" stroke-width="0.45">0</tspan><tspan x="583.58" y="665.20" font-size="10.95" textLength="7.67" lengthAdjust="spacingAndGlyphs" stroke="#3a3a3a" stroke-width="0.45">2</tspan><tspan x="592.18" y="667.56" font-size="15.75" textLength="7.41" lengthAdjust="spacingAndGlyphs">5</tspan></text>
<text y="665.20" font-family="'DejaVu Serif Condensed','DejaVu Serif','Liberation Serif',serif" font-size="15" font-weight="normal" font-style="normal" fill="#3a3a3a" stroke="#3a3a3a" stroke-width="0.42" xml:space="preserve" ><tspan x="758.60" y="665.20" textLength="37.59" lengthAdjust="spacingAndGlyphs">April </tspan><tspan x="796.73" y="665.20" font-size="10.95" textLength="7.84" lengthAdjust="spacingAndGlyphs" stroke="#3a3a3a" stroke-width="0.45">2</tspan><tspan x="805.68" y="665.20" font-size="10.95" textLength="8.61" lengthAdjust="spacingAndGlyphs" stroke="#3a3a3a" stroke-width="0.45">0</tspan><tspan x="815.41" y="665.20" font-size="10.95" textLength="7.84" lengthAdjust="spacingAndGlyphs" stroke="#3a3a3a" stroke-width="0.45">2</tspan><tspan x="824.21" y="667.56" font-size="15.75" textLength="7.57" lengthAdjust="spacingAndGlyphs">5</tspan></text>
<text y="665.20" font-family="'DejaVu Serif Condensed','DejaVu Serif','Liberation Serif',serif" font-size="15" font-weight="normal" font-style="normal" fill="#3a3a3a" stroke="#3a3a3a" stroke-width="0.42" xml:space="preserve" ><tspan x="991.80" y="665.20" textLength="32.94" lengthAdjust="spacingAndGlyphs">May </tspan><tspan x="1025.26" y="665.20" font-size="10.95" textLength="7.68" lengthAdjust="spacingAndGlyphs" stroke="#3a3a3a" stroke-width="0.45">2</tspan><tspan x="1034.03" y="665.20" font-size="10.95" textLength="8.43" lengthAdjust="spacingAndGlyphs" stroke="#3a3a3a" stroke-width="0.45">0</tspan><tspan x="1043.56" y="665.20" font-size="10.95" textLength="7.68" lengthAdjust="spacingAndGlyphs" stroke="#3a3a3a" stroke-width="0.45">2</tspan><tspan x="1052.17" y="667.56" font-size="15.75" textLength="7.41" lengthAdjust="spacingAndGlyphs">5</tspan></text>
<text y="648.90" font-family="'DejaVu Serif Condensed','DejaVu Serif','Liberation Serif',serif" font-size="12.2" font-weight="normal" font-style="normal" fill="#3a3a3a" stroke="#3a3a3a" stroke-width="0.42" xml:space="preserve" ><tspan x="66.00" y="648.90" font-size="8.91" textLength="7.02" lengthAdjust="spacingAndGlyphs" stroke="#3a3a3a" stroke-width="0.37">0</tspan></text>
<text y="579.02" font-family="'DejaVu Serif Condensed','DejaVu Serif','Liberation Serif',serif" font-size="12.2" font-weight="normal" font-style="normal" fill="#3a3a3a" stroke="#3a3a3a" stroke-width="0.42" xml:space="preserve" ><tspan x="59.00" y="580.95" font-size="12.81" textLength="6.18" lengthAdjust="spacingAndGlyphs">5</tspan><tspan x="66.00" y="579.02" font-size="8.91" textLength="7.02" lengthAdjust="spacingAndGlyphs" stroke="#3a3a3a" stroke-width="0.37">0</tspan></text>
<text y="509.15" font-family="'DejaVu Serif Condensed','DejaVu Serif','Liberation Serif',serif" font-size="12.2" font-weight="normal" font-style="normal" fill="#3a3a3a" stroke="#3a3a3a" stroke-width="0.42" xml:space="preserve" ><tspan x="52.29" y="509.15" font-size="8.91" textLength="4.91" lengthAdjust="spacingAndGlyphs" stroke="#3a3a3a" stroke-width="0.37">1</tspan><tspan x="58.01" y="509.15" font-size="8.91" textLength="7.02" lengthAdjust="spacingAndGlyphs" stroke="#3a3a3a" stroke-width="0.37">0</tspan><tspan x="66.00" y="509.15" font-size="8.91" textLength="7.02" lengthAdjust="spacingAndGlyphs" stroke="#3a3a3a" stroke-width="0.37">0</tspan></text>
<text y="439.27" font-family="'DejaVu Serif Condensed','DejaVu Serif','Liberation Serif',serif" font-size="12.2" font-weight="normal" font-style="normal" fill="#3a3a3a" stroke="#3a3a3a" stroke-width="0.42" xml:space="preserve" ><tspan x="53.41" y="439.27" font-size="8.91" textLength="4.91" lengthAdjust="spacingAndGlyphs" stroke="#3a3a3a" stroke-width="0.37">1</tspan><tspan x="59.00" y="441.20" font-size="12.81" textLength="6.18" lengthAdjust="spacingAndGlyphs">5</tspan><tspan x="66.00" y="439.27" font-size="8.91" textLength="7.02" lengthAdjust="spacingAndGlyphs" stroke="#3a3a3a" stroke-width="0.37">0</tspan></text>
<text y="369.40" font-family="'DejaVu Serif Condensed','DejaVu Serif','Liberation Serif',serif" font-size="12.2" font-weight="normal" font-style="normal" fill="#3a3a3a" stroke="#3a3a3a" stroke-width="0.42" xml:space="preserve" ><tspan x="50.71" y="369.40" font-size="8.91" textLength="6.39" lengthAdjust="spacingAndGlyphs" stroke="#3a3a3a" stroke-width="0.37">2</tspan><tspan x="58.01" y="369.40" font-size="8.91" textLength="7.02" lengthAdjust="spacingAndGlyphs" stroke="#3a3a3a" stroke-width="0.37">0</tspan><tspan x="66.00" y="369.40" font-size="8.91" textLength="7.02" lengthAdjust="spacingAndGlyphs" stroke="#3a3a3a" stroke-width="0.37">0</tspan></text>
<text y="299.52" font-family="'DejaVu Serif Condensed','DejaVu Serif','Liberation Serif',serif" font-size="12.2" font-weight="normal" font-style="normal" fill="#3a3a3a" stroke="#3a3a3a" stroke-width="0.42" xml:space="preserve" ><tspan x="51.82" y="299.52" font-size="8.91" textLength="6.39" lengthAdjust="spacingAndGlyphs" stroke="#3a3a3a" stroke-width="0.37">2</tspan><tspan x="59.00" y="301.45" font-size="12.81" textLength="6.18" lengthAdjust="spacingAndGlyphs">5</tspan><tspan x="66.00" y="299.52" font-size="8.91" textLength="7.02" lengthAdjust="spacingAndGlyphs" stroke="#3a3a3a" stroke-width="0.37">0</tspan></text>
<text y="229.65" font-family="'DejaVu Serif Condensed','DejaVu Serif','Liberation Serif',serif" font-size="12.2" font-weight="normal" font-style="normal" fill="#3a3a3a" stroke="#3a3a3a" stroke-width="0.42" xml:space="preserve" ><tspan x="50.72" y="231.57" font-size="12.81" textLength="6.46" lengthAdjust="spacingAndGlyphs">3</tspan><tspan x="58.01" y="229.65" font-size="8.91" textLength="7.02" lengthAdjust="spacingAndGlyphs" stroke="#3a3a3a" stroke-width="0.37">0</tspan><tspan x="66.00" y="229.65" font-size="8.91" textLength="7.02" lengthAdjust="spacingAndGlyphs" stroke="#3a3a3a" stroke-width="0.37">0</tspan></text>
<text y="159.78" font-family="'DejaVu Serif Condensed','DejaVu Serif','Liberation Serif',serif" font-size="12.2" font-weight="normal" font-style="normal" fill="#3a3a3a" stroke="#3a3a3a" stroke-width="0.42" xml:space="preserve" ><tspan x="51.84" y="161.70" font-size="12.81" textLength="6.46" lengthAdjust="spacingAndGlyphs">3</tspan><tspan x="59.00" y="161.70" font-size="12.81" textLength="6.18" lengthAdjust="spacingAndGlyphs">5</tspan><tspan x="66.00" y="159.78" font-size="8.91" textLength="7.02" lengthAdjust="spacingAndGlyphs" stroke="#3a3a3a" stroke-width="0.37">0</tspan></text>
<text y="89.90" font-family="'DejaVu Serif Condensed','DejaVu Serif','Liberation Serif',serif" font-size="12.2" font-weight="normal" font-style="normal" fill="#3a3a3a" stroke="#3a3a3a" stroke-width="0.42" xml:space="preserve" ><tspan x="50.56" y="91.82" font-size="12.81" textLength="6.61" lengthAdjust="spacingAndGlyphs">4</tspan><tspan x="58.01" y="89.90" font-size="8.91" textLength="7.02" lengthAdjust="spacingAndGlyphs" stroke="#3a3a3a" stroke-width="0.37">0</tspan><tspan x="66.00" y="89.90" font-size="8.91" textLength="7.02" lengthAdjust="spacingAndGlyphs" stroke="#3a3a3a" stroke-width="0.37">0</tspan></text>
<rect x="552.2" y="697.8" width="12" height="12" fill="#1b6393"/>
<rect x="656.9" y="697.8" width="11.5" height="12" fill="#ff8345"/>
<text y="709.00" font-family="'DejaVu Serif Condensed','DejaVu Serif','Liberation Serif',serif" font-size="15" font-weight="normal" font-style="normal" fill="#3a3a3a" stroke="#3a3a3a" stroke-width="0.42" xml:space="preserve" ><tspan x="569.70" y="709.00" textLength="41.80" lengthAdjust="spacingAndGlyphs">Drone</tspan></text>
<text y="709.00" font-family="'DejaVu Serif Condensed','DejaVu Serif','Liberation Serif',serif" font-size="15" font-weight="normal" font-style="normal" fill="#3a3a3a" stroke="#3a3a3a" stroke-width="0.42" xml:space="preserve" ><tspan x="672.25" y="709.00" textLength="54.55" lengthAdjust="spacingAndGlyphs">Missiles</tspan></text>
<text y="40.50" font-family="'DejaVu Serif','Liberation Serif',serif" font-size="21.3" font-weight="bold" font-style="normal" fill="#151515" stroke="#151515" stroke-width="0.4" xml:space="preserve" ><tspan x="420.00" y="40.50" textLength="551.30" lengthAdjust="spacingAndGlyphs">Russian Drone and Missile Strikes on Ukraine</tspan></text>
<text y="66.70" font-family="'DejaVu Serif','Liberation Serif',serif" font-size="21.3" font-weight="bold" font-style="normal" fill="#151515" stroke="#151515" stroke-width="0.4" xml:space="preserve" ><tspan x="502.80" y="66.70" textLength="95.30" lengthAdjust="spacingAndGlyphs">January</tspan><tspan x="598.10" y="66.70"> </tspan><tspan x="606.66" y="66.70" font-size="16.40" textLength="9.65" lengthAdjust="spacingAndGlyphs" stroke="#151515" stroke-width="0.64">1</tspan><tspan x="616.96" y="66.70" textLength="7.54" lengthAdjust="spacingAndGlyphs">,</tspan><tspan x="624.50" y="66.70"> </tspan><tspan x="634.85" y="66.70" font-size="16.40" textLength="12.46" lengthAdjust="spacingAndGlyphs" stroke="#151515" stroke-width="0.64">2</tspan><tspan x="649.09" y="66.70" font-size="16.40" textLength="13.63" lengthAdjust="spacingAndGlyphs" stroke="#151515" stroke-width="0.64">0</tspan><tspan x="664.50" y="66.70" font-size="16.40" textLength="12.46" lengthAdjust="spacingAndGlyphs" stroke="#151515" stroke-width="0.64">2</tspan><tspan x="678.48" y="69.56" font-size="22.37" textLength="12.15" lengthAdjust="spacingAndGlyphs">5</tspan><tspan x="691.30" y="66.70"> </tspan><tspan x="699.70" y="66.70" textLength="21.90" lengthAdjust="spacingAndGlyphs">to</tspan><tspan x="721.60" y="66.70"> </tspan><tspan x="730.00" y="66.70" textLength="46.30" lengthAdjust="spacingAndGlyphs">May</tspan><tspan x="776.30" y="66.70"> </tspan><tspan x="784.92" y="66.70" font-size="16.40" textLength="13.52" lengthAdjust="spacingAndGlyphs" stroke="#151515" stroke-width="0.64">2</tspan><tspan x="800.16" y="66.70" font-size="20.66" textLength="14.26" lengthAdjust="spacingAndGlyphs">6</tspan><tspan x="815.21" y="66.70" textLength="8.09" lengthAdjust="spacingAndGlyphs">,</tspan><tspan x="823.30" y="66.70"> </tspan><tspan x="832.72" y="66.70" font-size="16.40" textLength="12.03" lengthAdjust="spacingAndGlyphs" stroke="#151515" stroke-width="0.64">2</tspan><tspan x="846.46" y="66.70" font-size="16.40" textLength="13.15" lengthAdjust="spacingAndGlyphs" stroke="#151515" stroke-width="0.64">0</tspan><tspan x="861.33" y="66.70" font-size="16.40" textLength="12.03" lengthAdjust="spacingAndGlyphs" stroke="#151515" stroke-width="0.64">2</tspan><tspan x="874.83" y="69.56" font-size="22.37" textLength="11.72" lengthAdjust="spacingAndGlyphs">5</tspan></text>
<g transform="translate(35.8,426.4) rotate(-90)"><text y="0.00" font-family="'DejaVu Serif','Liberation Serif',serif" font-size="22.8" font-weight="bold" font-style="normal" fill="#151515" stroke="#151515" stroke-width="0.4" xml:space="preserve" ><tspan x="0.00" y="0.00" textLength="166.60" lengthAdjust="spacingAndGlyphs">Strike Vehicle</tspan></text></g>
<text y="746.70" font-family="'DejaVu Serif Condensed','DejaVu Serif','Liberation Serif',serif" font-size="15" font-weight="normal" font-style="italic" fill="#333" stroke="#333" stroke-width="0.42" xml:space="preserve" ><tspan x="13.50" y="746.70" textLength="321.10" lengthAdjust="spacingAndGlyphs">Graphic by Daniel Mealie and Angelica Evans</tspan></text>
<text y="765.00" font-family="'DejaVu Serif Condensed','DejaVu Serif','Liberation Serif',serif" font-size="15" font-weight="normal" font-style="italic" fill="#333" stroke="#333" stroke-width="0.42" xml:space="preserve" ><tspan x="13.50" y="765.00" textLength="17.97" lengthAdjust="spacingAndGlyphs">© </tspan><tspan x="32.02" y="765.00" font-size="10.95" textLength="7.96" lengthAdjust="spacingAndGlyphs" stroke="#333" stroke-width="0.45">2</tspan><tspan x="41.11" y="765.00" font-size="10.95" textLength="8.74" lengthAdjust="spacingAndGlyphs" stroke="#333" stroke-width="0.45">0</tspan><tspan x="50.99" y="765.00" font-size="10.95" textLength="7.96" lengthAdjust="spacingAndGlyphs" stroke="#333" stroke-width="0.45">2</tspan><tspan x="59.91" y="767.36" font-size="15.75" textLength="7.68" lengthAdjust="spacingAndGlyphs">5</tspan><tspan x="68.02" y="765.00" textLength="207.58" lengthAdjust="spacingAndGlyphs"> Institute for the Study of War</tspan></text>
<path d="M1075 16.2 H1106.8 V66 L1098.5 76 H1085 L1075 66 Z" fill="#8b682c"/>
<text x="1070.3" y="85" font-family="'Liberation Serif',serif" font-size="111" fill="#0c3750" stroke="#fcf8ef" stroke-width="3" paint-order="stroke" textLength="41.2" lengthAdjust="spacingAndGlyphs" id="lgI">I</text>
<text x="1112.8" y="85.3" font-family="'Liberation Serif',serif" font-size="113.5" fill="#0c3750" stroke="#0c3750" stroke-width="0.6" textLength="61" lengthAdjust="spacingAndGlyphs" id="lgS">S</text>
<clipPath id="wclip"><rect x="1160" y="0" width="45.5" height="95"/><rect x="1239" y="0" width="41" height="95"/><rect x="1200" y="19.6" width="45" height="80"/><path d="M1216.9 19.7 L1221.6 11.6 H1223.6 L1228 19.7 Z"/></clipPath>
<g clip-path="url(#wclip)"><text transform="translate(1168.9,84.3) scale(1.006,1)" font-family="'Noto Serif CJK SC','Liberation Serif',serif" font-size="96.5" fill="#0c3750" stroke="#0c3750" stroke-width="2.2" stroke-linejoin="miter" id="lgW">W</text></g>
<polygon points="1090.60,87.60 1093.97,97.96 1104.87,97.96 1096.05,104.37 1099.42,114.74 1090.60,108.33 1081.78,114.74 1085.15,104.37 1076.33,97.96 1087.23,97.96" fill="#8b682c"/>
<text y="99.6" font-family="'Liberation Sans',sans-serif" font-weight="bold" font-size="7.7" fill="#14385a" stroke="#14385a" stroke-width="0.45" id="lgT1"><tspan x="1114.6" textLength="71.8" lengthAdjust="spacing">INSTITUTE</tspan> <tspan x="1199" textLength="24.9" lengthAdjust="spacing">FOR</tspan> <tspan x="1236.5" textLength="23.3" lengthAdjust="spacing">THE</tspan></text>
<text y="114.7" font-family="'Liberation Serif',serif" font-size="18.2" fill="#96753c" stroke="#96753c" stroke-width="0.35" id="lgT2"><tspan x="1112.5" textLength="65.3" lengthAdjust="spacingAndGlyphs">STUDY</tspan> <tspan x="1187.2" textLength="24.2" lengthAdjust="spacingAndGlyphs">OF</tspan> <tspan x="1220.8" textLength="40.6" lengthAdjust="spacingAndGlyphs">WAR</tspan></text>
</svg>
</body></html>
